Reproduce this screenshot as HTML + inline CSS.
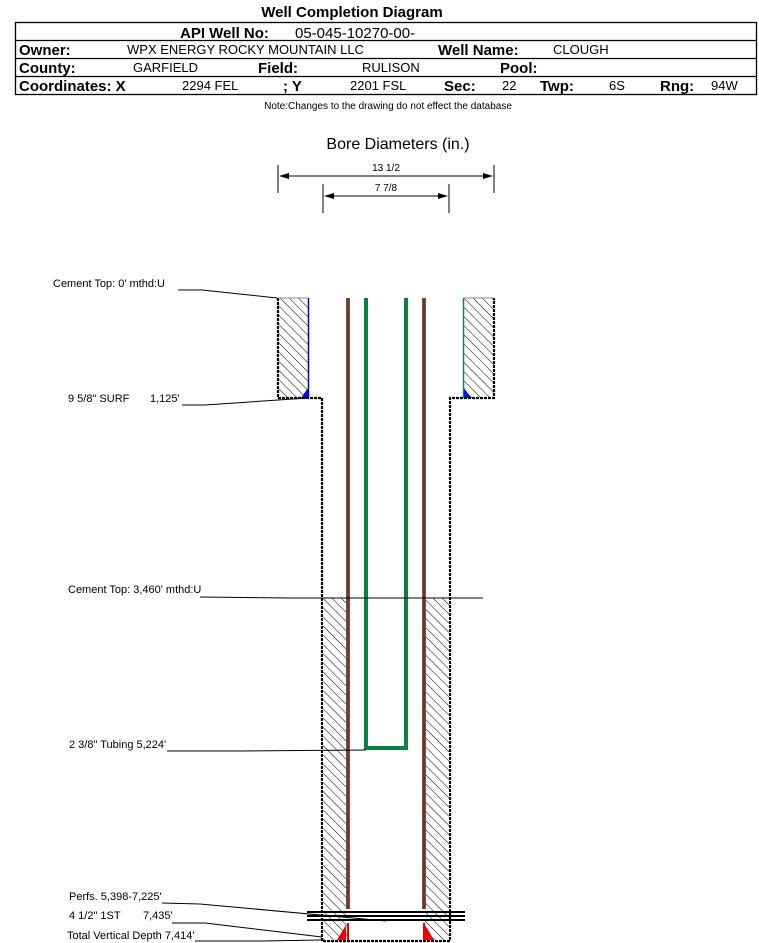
<!DOCTYPE html>
<html><head><style>
body{margin:0;background:#fff;}
svg{display:block;font-family:"Liberation Sans",Arial,sans-serif;}
</style></head><body>
<svg width="759" height="943" viewBox="0 0 759 943" xmlns="http://www.w3.org/2000/svg">
<defs>
<pattern id="h" patternUnits="userSpaceOnUse" width="6.5" height="6.5" patternTransform="rotate(-45)">
<rect width="6.5" height="6.5" fill="#fff"/><line x1="0" y1="0" x2="0" y2="6.5" stroke="#000" stroke-width="1"/>
</pattern>
</defs>
<text x="352" y="17" font-size="15" font-weight="bold" text-anchor="middle">Well Completion Diagram</text>
<g stroke="#000" stroke-width="1.3" fill="none">
<rect x="15.5" y="22.5" width="741" height="72"/>
<line x1="15" y1="40.5" x2="757" y2="40.5"/>
<line x1="15" y1="58.5" x2="757" y2="58.5"/>
<line x1="15" y1="76.5" x2="757" y2="76.5"/>
</g>
<g font-size="15" font-weight="bold">
<text x="180" y="38">API Well No:</text>
<text x="19" y="55">Owner:</text><text x="438" y="55">Well Name:</text>
<text x="19" y="73">County:</text><text x="258" y="73">Field:</text><text x="500" y="73">Pool:</text>
<text x="19" y="91">Coordinates: X</text><text x="283" y="91">; Y</text><text x="444" y="91">Sec:</text><text x="540" y="91">Twp:</text><text x="660" y="91">Rng:</text>
</g>
<g font-size="13">
<text x="295" y="38" font-size="15">05-045-10270-00-</text>
<text x="127" y="54">WPX ENERGY ROCKY MOUNTAIN LLC</text><text x="553" y="54">CLOUGH</text>
<text x="133" y="72">GARFIELD</text><text x="362" y="72">RULISON</text>
<text x="182" y="90">2294 FEL</text><text x="350" y="90">2201 FSL</text><text x="502" y="90">22</text><text x="609" y="90">6S</text><text x="711" y="90">94W</text>
</g>
<text x="388" y="109" font-size="10" text-anchor="middle">Note:Changes to the drawing do not effect the database</text>

<text x="398" y="149" font-size="16" text-anchor="middle">Bore Diameters (in.)</text>
<g stroke="#000" stroke-width="1">
<line x1="278" y1="165" x2="278" y2="193"/><line x1="494" y1="165" x2="494" y2="193"/>
<line x1="288" y1="176" x2="484" y2="176"/>
<line x1="323" y1="184" x2="323" y2="213"/><line x1="449" y1="184" x2="449" y2="213"/>
<line x1="333" y1="196" x2="439" y2="196"/>
</g>
<path d="M279,176 l10,-3 v6z M493,176 l-10,-3 v6z M324,196 l10,-3 v6z M448,196 l-10,-3 v6z" fill="#000"/>
<text x="386" y="171" font-size="10" text-anchor="middle">13 1/2</text>
<text x="386" y="191" font-size="10" text-anchor="middle">7 7/8</text>

<rect x="278" y="298" width="30" height="100" fill="url(#h)"/>
<rect x="464" y="298" width="30" height="100" fill="url(#h)"/>
<path d="M301,398 L308,388 L308,398z M464,388 L471,398 L464,398z" fill="#00f"/>
<g stroke="#000" stroke-width="2.2" fill="none" stroke-dasharray="3,1">
<path d="M278,298 V398 H322 V941 H450 V398 H494 V298"/>
</g>
<line x1="278" y1="298" x2="308" y2="298" stroke="#888"/>
<line x1="464" y1="298" x2="494" y2="298" stroke="#888"/>
<line x1="308.5" y1="298" x2="308.5" y2="398" stroke="#00a" stroke-width="1.5"/>
<line x1="463.5" y1="298" x2="463.5" y2="398" stroke="#086" stroke-width="1.5"/>

<rect x="323" y="598" width="24" height="342" fill="url(#h)"/>
<rect x="425" y="598" width="24" height="342" fill="url(#h)"/>
<path d="M337,940 L346,925 L346,940z M434,940 L425,925 L425,940z" fill="#e00"/>
<g stroke-width="4" fill="none">
<line x1="348" y1="298" x2="348" y2="909" stroke="#086"/>
<line x1="348" y1="298" x2="348" y2="909" stroke="#e00" stroke-width="2"/>
<line x1="424" y1="298" x2="424" y2="909" stroke="#086"/>
<line x1="424" y1="298" x2="424" y2="909" stroke="#e00" stroke-width="2"/>
<line x1="348" y1="923" x2="348" y2="940" stroke="#e00" stroke-width="2"/>
<line x1="424" y1="923" x2="424" y2="940" stroke="#e00" stroke-width="2"/>
<path d="M366,298 V748 H406 V298" stroke="#088044"/>
</g>
<g stroke="#000" stroke-width="2">
<line x1="307" y1="912" x2="465" y2="912"/>
<line x1="307" y1="916" x2="465" y2="916"/>
<line x1="307" y1="920" x2="465" y2="920"/>
</g>
<g stroke="#000" stroke-width="1" fill="none">
<polyline points="178,290 202,290 277,298"/>
<polyline points="182,405 205,405 308,398"/>
<polyline points="200,597 290,598 483,598"/>
<polyline points="167,751 240,751 366,750"/>
<polyline points="162,903 200,904 386,921"/>
<polyline points="172,923 205,923 322,937"/>
<polyline points="195,941 260,941 322,940"/>
</g>
<g font-size="11">
<text x="53" y="287">Cement Top: 0' mthd:U</text>
<text x="68" y="402">9 5/8" SURF</text><text x="150" y="402">1,125'</text>
<text x="68" y="593">Cement Top: 3,460' mthd:U</text>
<text x="69" y="748">2 3/8" Tubing 5,224'</text>
<text x="69" y="900">Perfs. 5,398-7,225'</text>
<text x="69" y="919">4 1/2" 1ST</text><text x="143" y="919">7,435'</text>
<text x="67" y="939">Total Vertical Depth 7,414'</text>
</g>
</svg>
</body></html>
